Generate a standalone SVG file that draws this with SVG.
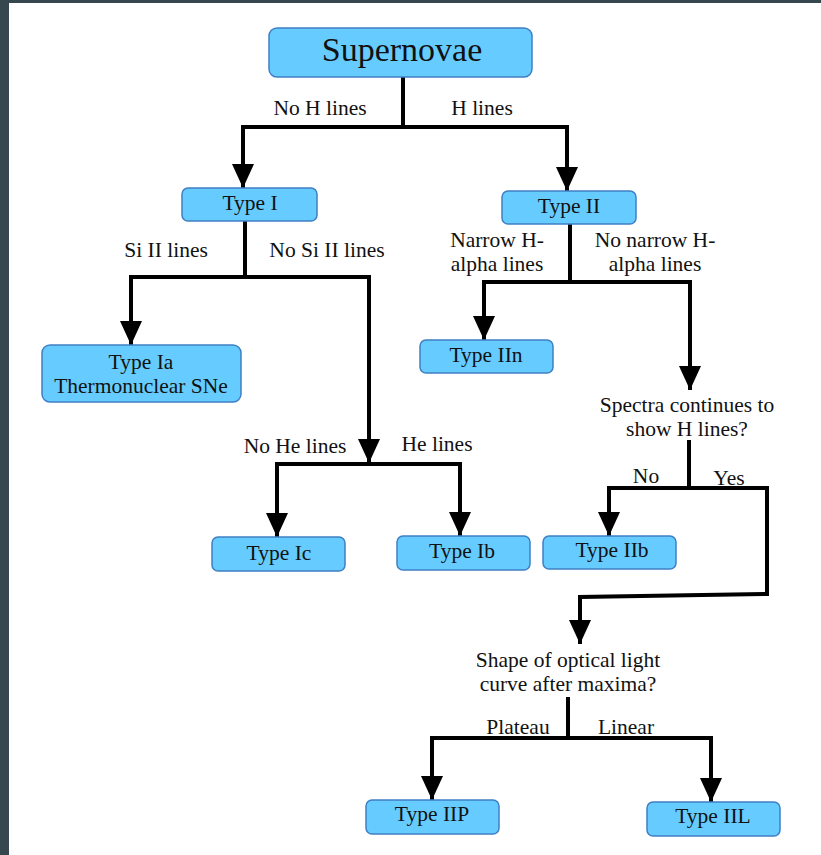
<svg xmlns="http://www.w3.org/2000/svg" width="821" height="855" viewBox="0 0 821 855">
<defs>
<marker id="arr" viewBox="0 0 24 22" refX="24" refY="11" markerWidth="24" markerHeight="22" markerUnits="userSpaceOnUse" orient="auto">
<path d="M0,0 L24,11 L0,22 z" fill="#000"/>
</marker>
<style>
.box{fill:#66ccff;stroke:#3f7fc4;stroke-width:1.5}
.t{font-family:"Liberation Serif","Times New Roman",serif;font-size:21.5px;fill:#111;text-anchor:middle}
.big{font-size:34px}
.c{fill:none;stroke:#000;stroke-width:4;stroke-linejoin:miter}
.a{marker-end:url(#arr)}
</style>
</defs>
<rect x="0" y="0" width="821" height="855" fill="#37474f"/>
<rect x="9" y="3" width="812" height="852" fill="#ffffff"/>

<g id="connectors">
<path class="c" d="M403,77 V127"/>
<path class="c a" d="M403,127 H243 V188"/>
<path class="c a" d="M403,127 H567 V191"/>
<path class="c" d="M245,221 V277"/>
<path class="c a" d="M245,277 H131 V345"/>
<path class="c a" d="M245,277 H369 V463"/>
<path class="c a" d="M369,464 H277 V537"/>
<path class="c a" d="M369,464 H460 V536"/>
<path class="c" d="M570,224 V282"/>
<path class="c a" d="M570,282 H484 V340"/>
<path class="c a" d="M570,282 H690 V390"/>
<path class="c" d="M689,440 V488"/>
<path class="c a" d="M689,488 H609 V536"/>
<path class="c a" d="M689,488 H767 V594 L580,597 V644"/>
<path class="c" d="M568,697 V738"/>
<path class="c a" d="M568,738 H432 V800"/>
<path class="c a" d="M568,738 H711 V802"/>
</g>

<g id="labels">
<text class="t" x="320" y="115">No H lines</text>
<text class="t" x="482" y="115">H lines</text>
<text class="t" x="166" y="257">Si II lines</text>
<text class="t" x="327" y="257">No Si II lines</text>
<text class="t" x="497" y="247">Narrow H-</text>
<text class="t" x="497" y="271">alpha lines</text>
<text class="t" x="655" y="247">No narrow H-</text>
<text class="t" x="655" y="271">alpha lines</text>
<text class="t" x="295" y="453">No He lines</text>
<text class="t" x="437" y="451">He lines</text>
<text class="t" x="646" y="483">No</text>
<text class="t" x="729" y="485">Yes</text>
<text class="t" x="518" y="734">Plateau</text>
<text class="t" x="626" y="734">Linear</text>
</g>

<g id="supernovae"><rect class="box" x="269" y="28" width="263" height="49" rx="8"/><text class="t big" x="402" y="61">Supernovae</text></g>
<g id="type-i"><rect class="box" x="182" y="188" width="135" height="33" rx="6"/><text class="t" x="250" y="210">Type I</text></g>
<g id="type-ii"><rect class="box" x="502" y="191" width="134" height="33" rx="6"/><text class="t" x="569" y="213">Type II</text></g>
<g id="type-ia"><rect class="box" x="42" y="345" width="199" height="57" rx="8"/><text class="t" x="141" y="369">Type Ia</text><text class="t" x="141" y="393">Thermonuclear SNe</text></g>
<g id="type-iin"><rect class="box" x="420" y="340" width="133" height="33" rx="6"/><text class="t" x="486" y="362">Type IIn</text></g>
<g id="q-spectra"><text class="t" x="687" y="412">Spectra continues to</text><text class="t" x="687" y="436">show H lines?</text></g>
<g id="type-ic"><rect class="box" x="212" y="537" width="133" height="34" rx="6"/><text class="t" x="279" y="560">Type Ic</text></g>
<g id="type-ib"><rect class="box" x="397" y="536" width="133" height="34" rx="6"/><text class="t" x="462" y="558">Type Ib</text></g>
<g id="type-iib"><rect class="box" x="543" y="536" width="133" height="33" rx="6"/><text class="t" x="612" y="557">Type IIb</text></g>
<g id="q-shape"><text class="t" x="568" y="667">Shape of optical light</text><text class="t" x="568" y="691">curve after maxima?</text></g>
<g id="type-iip"><rect class="box" x="366" y="800" width="133" height="34" rx="6"/><text class="t" x="432" y="821">Type IIP</text></g>
<g id="type-iil"><rect class="box" x="647" y="802" width="133" height="34" rx="6"/><text class="t" x="713" y="823">Type IIL</text></g>
</svg>
